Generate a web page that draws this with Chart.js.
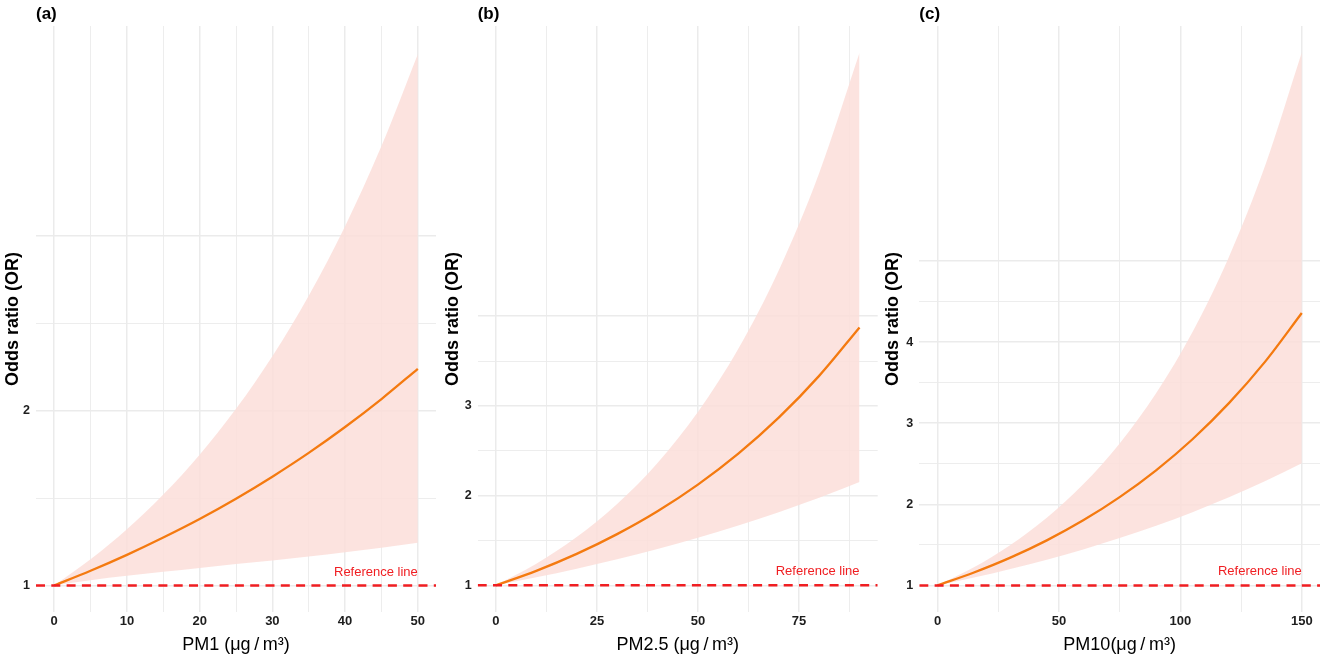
<!DOCTYPE html>
<html>
<head>
<meta charset="utf-8">
<script src="https://cdn.jsdelivr.net/npm/chart.js@4/dist/chart.umd.min.js"></script>
<style>
  html, body { margin: 0; padding: 0; background: #fff; }
  body { width: 1325px; height: 661px; overflow: hidden; position: relative; }
  .panel { position: absolute; top: 0; height: 661px; }
</style>
</head>
<body>
<div class="panel" style="left:0;width:440px"><canvas id="c0"></canvas></div>
<div class="panel" style="left:440px;width:440px"><canvas id="c1"></canvas></div>
<div class="panel" style="left:880px;width:445px"><canvas id="c2"></canvas></div>
<script>
// ---------- text ----------
const panelTags = ['(a)', '(b)', '(c)'];
const xTitles = ['PM1 (\u03bcg\u2009/\u2009m\u00b3)', 'PM2.5 (\u03bcg\u2009/\u2009m\u00b3)', 'PM10(\u03bcg\u2009/\u2009m\u00b3)'];
const yTitle = 'Odds ratio (OR)';
const refLabel = 'Reference line';

// ---------- data ----------
const xA  = [0, 5, 10, 15, 20, 25, 30, 35, 40, 45, 50];
const orA = [1, 1.084, 1.175, 1.274, 1.380, 1.496, 1.622, 1.758, 1.906, 2.066, 2.239];
const loA = [1, 1.030, 1.055, 1.078, 1.100, 1.122, 1.143, 1.166, 1.190, 1.216, 1.244];
const upA = [1, 1.150, 1.322, 1.520, 1.748, 2.010, 2.311, 2.657, 3.055, 3.513, 4.039];

const xB  = [0, 10, 20, 30, 40, 50, 60, 70, 80, 90];
const orB = [1, 1.162, 1.351, 1.571, 1.826, 2.123, 2.468, 2.869, 3.335, 3.875];
const loB = [1, 1.089, 1.186, 1.291, 1.406, 1.530, 1.666, 1.815, 1.976, 2.151];
const upB = [1, 1.240, 1.538, 1.907, 2.365, 2.933, 3.638, 4.511, 5.595, 6.938];

const xC  = [0, 15, 30, 45, 60, 75, 90, 105, 120, 135, 150];
const orC = [1, 1.159, 1.342, 1.555, 1.802, 2.088, 2.419, 2.802, 3.247, 3.762, 4.358];
const loC = [1, 1.096, 1.202, 1.317, 1.444, 1.583, 1.736, 1.903, 2.086, 2.287, 2.507];
const upC = [1, 1.224, 1.499, 1.835, 2.247, 2.751, 3.368, 4.124, 5.050, 6.182, 7.569];

const refValue = 1;

// ---------- ticks ----------
const xTicksA = [0, 5, 10, 15, 20, 25, 30, 35, 40, 45, 50];
const xMajorA = [0, 10, 20, 30, 40, 50];
const xTicksB = [0, 12.5, 25, 37.5, 50, 62.5, 75, 87.5];
const xMajorB = [0, 25, 50, 75];
const xTicksC = [0, 25, 50, 75, 100, 125, 150];
const xMajorC = [0, 50, 100, 150];

const yTicksA = [1, 1.5, 2, 2.5, 3];
const yMajorA = [1, 2, 3];
const yLabelsA = [1, 2];
const yTicksB = [1, 1.5, 2, 2.5, 3, 3.5, 4];
const yMajorB = [1, 2, 3, 4];
const yLabelsB = [1, 2, 3];
const yTicksC = [1, 1.5, 2, 2.5, 3, 3.5, 4, 4.5, 5];
const yMajorC = [1, 2, 3, 4, 5];
const yLabelsC = [1, 2, 3, 4];

// axis limits (data range + 5% expansion)
const xLimA = [-2.5, 52.5], xLimB = [-4.5, 94.5], xLimC = [-7.5, 157.5];
const yLimA = [0.848, 4.2], yLimB = [0.703, 7.235], yLimC = [0.672, 7.897];

// ---------- styling ----------
const FONT = '"Liberation Sans", Arial, Helvetica, sans-serif';
const ribbonColor = 'rgba(252,222,217,0.85)';
const lineColor = '#f47a10';
const refColor = '#f01e22';
const gridColor = '#ebebeb';

const panels = [
  { id: 'c0', x: xA, or: orA, lo: loA, up: upA, xt: xTicksA, xm: xMajorA, yt: yTicksA, ym: yMajorA, yl: yLabelsA, xl: xLimA, yli: yLimA, yw: 36, pr: 4 },
  { id: 'c1', x: xB, or: orB, lo: loB, up: upB, xt: xTicksB, xm: xMajorB, yt: yTicksB, ym: yMajorB, yl: yLabelsB, xl: xLimB, yli: yLimB, yw: 37.7, pr: 2.3 },
  { id: 'c2', x: xC, or: orC, lo: loC, up: upC, xt: xTicksC, xm: xMajorC, yt: yTicksC, ym: yMajorC, yl: yLabelsC, xl: xLimC, yli: yLimC, yw: 39.3, pr: 5 }
];

const annotPlugin = {
  id: 'annot',
  afterDatasetsDraw(chart, args, opts) {
    const { ctx, chartArea, scales } = chart;
    ctx.save();
    ctx.fillStyle = refColor;
    ctx.font = '13px ' + FONT;
    ctx.textAlign = 'right';
    ctx.textBaseline = 'middle';
    ctx.fillText(refLabel, scales.x.getPixelForValue(opts.refX), scales.y.getPixelForValue(refValue) - 13.5);
    ctx.fillStyle = '#000';
    ctx.font = 'bold 17px ' + FONT;
    ctx.textAlign = 'left';
    ctx.fillText(opts.tag, chartArea.left, 14);
    ctx.restore();
  }
};

panels.forEach((p, i) => {
  const pts = arr => p.x.map((xv, k) => ({ x: xv, y: arr[k] }));
  new Chart(document.getElementById(p.id), {
    type: 'line',
    data: {
      datasets: [
        { data: pts(p.up), fill: '+1', backgroundColor: ribbonColor, borderWidth: 0, pointRadius: 0, cubicInterpolationMode: 'monotone', order: 3 },
        { data: pts(p.lo), fill: false, borderWidth: 0, pointRadius: 0, cubicInterpolationMode: 'monotone', order: 2 },
        { data: pts(p.or), fill: false, borderColor: lineColor, borderWidth: 2.3, pointRadius: 0, cubicInterpolationMode: 'monotone', order: 1 },
        { data: [{ x: p.xl[0], y: refValue }, { x: p.xl[1], y: refValue }], fill: false, borderColor: refColor, borderWidth: 2.5, borderDash: [9, 6.3], pointRadius: 0, order: 0 }
      ]
    },
    options: {
      responsive: true,
      maintainAspectRatio: false,
      animation: false,
      events: [],
      layout: { padding: { top: 26, right: p.pr, bottom: 0, left: 0 } },
      plugins: {
        legend: { display: false },
        tooltip: { enabled: false },
        annot: { tag: panelTags[i], refX: p.x[p.x.length - 1] }
      },
      scales: {
        x: {
          type: 'linear',
          min: p.xl[0], max: p.xl[1],
          afterBuildTicks: s => { s.ticks = p.xt.map(v => ({ value: v })); },
          afterFit: s => { s.height = 49; },
          border: { display: false },
          grid: {
            drawTicks: false,
            color: gridColor,
            lineWidth: c => (p.xm.includes(c.tick.value) ? 1.5 : 0.9)
          },
          ticks: {
            autoSkip: false, maxRotation: 0, padding: 2,
            color: '#1e1e1e',
            font: { family: FONT, size: 13, weight: 'bold' },
            callback: v => (p.xm.includes(v) ? String(v) : '')
          },
          title: {
            display: true, text: xTitles[i], color: '#000',
            font: { family: FONT, size: 18, weight: 'normal' },
            padding: { top: 0, bottom: 5 }
          }
        },
        y: {
          type: 'linear',
          min: p.yli[0], max: p.yli[1],
          afterBuildTicks: s => { s.ticks = p.yt.map(v => ({ value: v })); },
          afterFit: s => { s.width = p.yw; },
          border: { display: false },
          grid: {
            drawTicks: false,
            color: gridColor,
            lineWidth: c => (p.ym.includes(c.tick.value) ? 1.5 : 0.9)
          },
          ticks: {
            autoSkip: false, padding: 6,
            color: '#1e1e1e',
            font: { family: FONT, size: 12.5, weight: 'bold' },
            callback: v => (p.yl.includes(v) ? String(v) : '')
          },
          title: {
            display: true, text: yTitle, color: '#000',
            font: { family: FONT, size: 18, weight: 'bold' },
            padding: { top: 2, bottom: 0 }
          }
        }
      }
    },
    plugins: [annotPlugin]
  });
});
</script>
</body>
</html>
